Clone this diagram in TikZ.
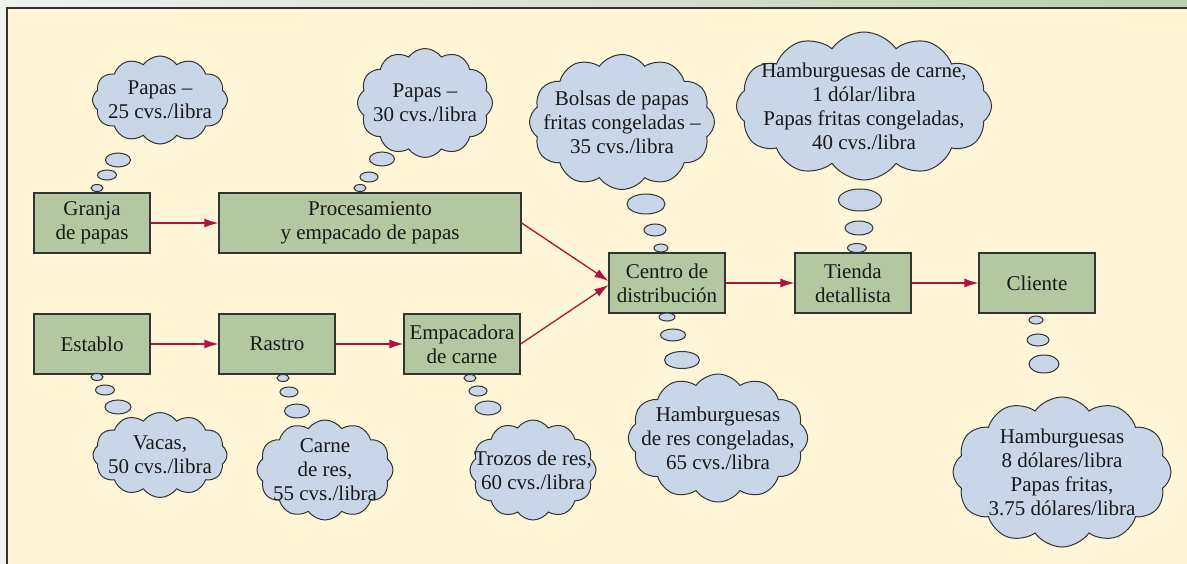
\documentclass[tikz,border=0pt]{standalone}
\usepackage{fontspec}
\setmainfont{Liberation Serif}
\usepackage{tikz}
\usetikzlibrary{shapes.symbols,shapes.geometric,arrows.meta}

\definecolor{panelbg}{HTML}{FFF5D7}
\definecolor{boxgreen}{HTML}{B3C8A0}
\definecolor{cloudblue}{HTML}{C9D6E7}
\definecolor{arrowred}{HTML}{B0123F}
\definecolor{edgegray}{HTML}{333333}
\definecolor{stripleft}{HTML}{F0F2EE}
\definecolor{stripright}{HTML}{BCCFAE}

\begin{document}
\begin{tikzpicture}[
    x=1pt, y=-1pt,
    every node/.style={font=\rmfamily\fontsize{21}{24}\selectfont, text=black!90},
    block/.style={rectangle, draw=edgegray, line width=1.2pt, fill=boxgreen, align=center, minimum width=116pt, minimum height=60pt, inner sep=0pt},
    thought/.style={cloud, cloud ignores aspect, cloud puffs=12, cloud puff arc=110, draw=edgegray, line width=1pt, fill=cloudblue, align=center, inner xsep=-14pt, inner ysep=-10pt},
    bubble/.style={ellipse, draw=edgegray, line width=1pt, fill=cloudblue, inner sep=0pt},
    line/.style={draw=arrowred, line width=1.3pt, -{Latex[length=14pt,width=9pt]}}
]
    \useasboundingbox (0,0) rectangle (1187,564);

    % Background
    \fill[stripleft] (0,0) rectangle (1187,564);
    \shade[left color=stripleft, right color=stripright] (0,0) rectangle (1187,8);
    \filldraw[fill=panelbg, draw=edgegray, line width=1.2pt] (7,8) rectangle (1200,580);

    % Nodes
    \node [block] (farm) at (92,223) {Granja\\de papas};
    \node [block, minimum width=302pt] (proc) at (370,223) {Procesamiento\\y empacado de papas};
    \node [block] (stable) at (92,344) {Establo};
    \node [block] (slaughter) at (277,344) {Rastro};
    \node [block] (packer) at (462,344) {Empacadora\\de carne};
    \node [block] (center) at (667,283) {Centro de\\distribuci\'on};
    \node [block] (store) at (853,283) {Tienda\\detallista};
    \node [block] (client) at (1037,283) {Cliente};

    % Clouds
    \node [thought, minimum width=135pt, minimum height=88pt] (cfarm) at (160,100) {Papas --\\25 cvs./libra};
    \node [thought, minimum width=135pt, minimum height=109pt] (cproc) at (425,103) {Papas --\\30 cvs./libra};
    \node [thought, minimum width=180pt, minimum height=135pt] (ccenter) at (622,122) {Bolsas de papas\\fritas congeladas --\\35 cvs./libra};
    \node [thought, minimum width=248pt, minimum height=148pt] (cstore) at (864,106) {Hamburguesas de carne,\\1 d\'olar/libra\\Papas fritas congeladas,\\40 cvs./libra};
    \node [thought, minimum width=168pt, minimum height=128pt] (cfrozen) at (718,438) {Hamburguesas\\de res congeladas,\\65 cvs./libra};
    \node [thought, minimum width=218pt, minimum height=150pt] (cclient) at (1062,472) {Hamburguesas\\8 d\'olares/libra\\Papas fritas,\\3.75 d\'olares/libra};
    \node [thought, minimum width=134pt, minimum height=85pt] (cstable) at (160,455) {Vacas,\\50 cvs./libra};
    \node [thought, minimum width=136pt, minimum height=100pt] (cslaughter) at (325,470) {Carne\\de res,\\55 cvs./libra};
    \node [thought, minimum width=124pt, minimum height=100pt] (cpacker) at (533,470) {Trozos de res,\\60 cvs./libra};

    % Bubbles
    \node [bubble, minimum width=12pt, minimum height=7pt] (bfarma) at (97,188) {};
    \node [bubble, minimum width=19pt, minimum height=10pt] (bfarmb) at (107,175) {};
    \node [bubble, minimum width=25pt, minimum height=14pt] (bfarmc) at (118,160) {};
    \node [bubble, minimum width=12pt, minimum height=7pt] (bproca) at (360,188) {};
    \node [bubble, minimum width=18pt, minimum height=10pt] (bprocb) at (369,177) {};
    \node [bubble, minimum width=25pt, minimum height=14pt] (bprocc) at (382,159) {};
    \node [bubble, minimum width=14pt, minimum height=8pt] (bcentera) at (661,248) {};
    \node [bubble, minimum width=22pt, minimum height=12pt] (bcenterb) at (655,230) {};
    \node [bubble, minimum width=38pt, minimum height=20pt] (bcenterc) at (646,204) {};
    \node [bubble, minimum width=19pt, minimum height=9pt] (bstorea) at (857,248) {};
    \node [bubble, minimum width=28pt, minimum height=14pt] (bstoreb) at (859,228) {};
    \node [bubble, minimum width=43pt, minimum height=22pt] (bstorec) at (860,200) {};
    \node [bubble, minimum width=16pt, minimum height=8pt] (bfrozena) at (667,317) {};
    \node [bubble, minimum width=25pt, minimum height=12pt] (bfrozenb) at (673,335) {};
    \node [bubble, minimum width=35pt, minimum height=17pt] (bfrozenc) at (682,360) {};
    \node [bubble, minimum width=14pt, minimum height=8pt] (bclienta) at (1036,320) {};
    \node [bubble, minimum width=22pt, minimum height=12pt] (bclientb) at (1038,340) {};
    \node [bubble, minimum width=30pt, minimum height=18pt] (bclientc) at (1044,364) {};
    \node [bubble, minimum width=12pt, minimum height=7pt] (bstablea) at (97,377) {};
    \node [bubble, minimum width=19pt, minimum height=10pt] (bstableb) at (105,390) {};
    \node [bubble, minimum width=26pt, minimum height=14pt] (bstablec) at (118,407) {};
    \node [bubble, minimum width=12pt, minimum height=7pt] (bslaughtera) at (283,378) {};
    \node [bubble, minimum width=18pt, minimum height=10pt] (bslaughterb) at (289,392) {};
    \node [bubble, minimum width=25pt, minimum height=14pt] (bslaughterc) at (297,411) {};
    \node [bubble, minimum width=12pt, minimum height=7pt] (bpackera) at (470,378) {};
    \node [bubble, minimum width=18pt, minimum height=10pt] (bpackerb) at (478,391) {};
    \node [bubble, minimum width=26pt, minimum height=14pt] (bpackerc) at (488,408) {};

    % Connections
    \draw [line] (farm) -- (proc);
    \draw [line] (stable) -- (slaughter);
    \draw [line] (slaughter) -- (packer);
    \draw [line] (proc.east) -- ([yshift=2pt]center.west);
    \draw [line] (packer.east) -- ([yshift=-2pt]center.west);
    \draw [line] (center) -- (store);
    \draw [line] (store) -- (client);

\end{tikzpicture}
\end{document}
